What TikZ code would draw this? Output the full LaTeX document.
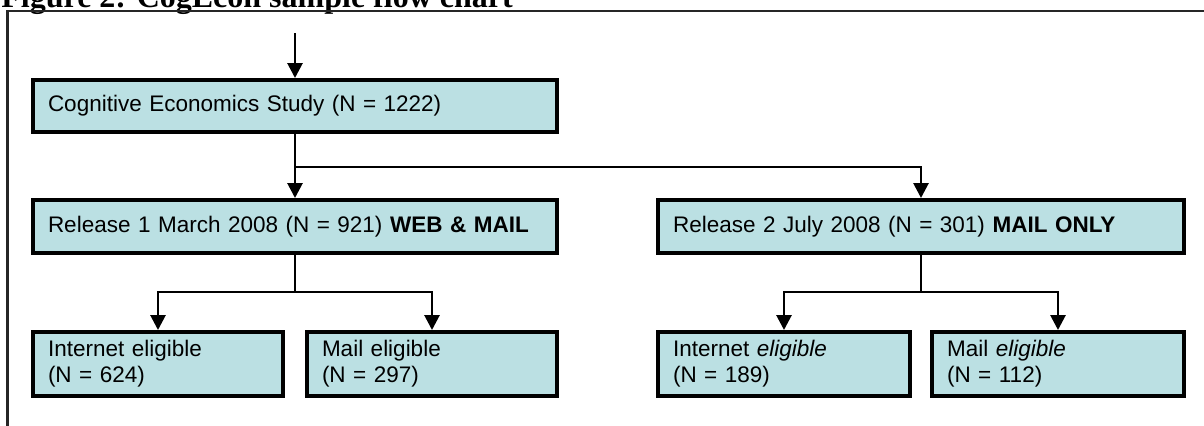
\documentclass[tikz,border=0pt]{standalone}
\usepackage{fontspec}
\setmainfont{Liberation Sans}
\newfontfamily\titlefont{Liberation Serif}
\usetikzlibrary{arrows.meta}
\definecolor{boxfill}{RGB}{187,224,227}
\begin{document}
\begin{tikzpicture}[x=0.5pt,y=-0.5pt,
  box/.style={draw=black, line width=2pt, fill=boxfill, inner xsep=7.5pt, inner ysep=0pt,
    align=left, anchor=north west, font=\fontsize{11.25}{13}\selectfont},
  conn/.style={line width=1.4pt},
  arr/.style={conn, -{Triangle[width=7.5pt,length=7.5pt]}},
  frameline/.style={line width=1.2pt, draw=black!85}]
\useasboundingbox (0,0) rectangle (1204,425);
\clip (0,0) rectangle (1204,425);
% title and frame
\node[anchor=base west, inner sep=0pt, font=\titlefont\fontsize{16}{19}\selectfont\bfseries] (title) at (1,7) {Figure 2: CogEcon sample flow chart};
\draw[frameline] (7.5,426) -- (7.5,11) -- (1205,11);
% boxes
\node[box, text width=247pt, minimum height=26pt] (b1) at (31,78) {Cognitive Economics Study (N = 1222)};
\node[box, text width=247pt, minimum height=26.5pt] (b2) at (31,198) {Release 1 March 2008 (N = 921) \textbf{WEB \& MAIL}};
\node[box, text width=248pt, minimum height=26.5pt] (b3) at (656,198) {Release 2 July 2008 (N = 301) \textbf{MAIL ONLY}};
\node[box, text width=110pt, minimum height=32pt] (b4) at (31,330) {Internet eligible\\(N = 624)};
\node[box, text width=110pt, minimum height=32pt] (b5) at (305,330) {Mail eligible\\(N = 297)};
\node[box, text width=111pt, minimum height=32pt] (b6) at (656,330) {Internet \textit{eligible}\\(N = 189)};
\node[box, text width=111pt, minimum height=32pt] (b7) at (930,330) {Mail \textit{eligible}\\(N = 112)};
% connectors
\coordinate (start) at (b1.north |- 0,33);
\coordinate (j1) at (b1.south |- 0,167);
\coordinate (j2) at (b2.south |- 0,292);
\coordinate (j3) at (b3.south |- 0,292);
\draw[arr] (start) -- (b1.north);
\draw[arr] (b1.south) -- (b2.north);
\draw[arr] (j1) -| (b3.north);
\draw[conn] (b2.south) -- (j2);
\draw[arr] (j2) -| (b4.north);
\draw[arr] (j2) -| (b5.north);
\draw[conn] (b3.south) -- (j3);
\draw[arr] (j3) -| (b6.north);
\draw[arr] (j3) -| (b7.north);
\end{tikzpicture}
\end{document}
